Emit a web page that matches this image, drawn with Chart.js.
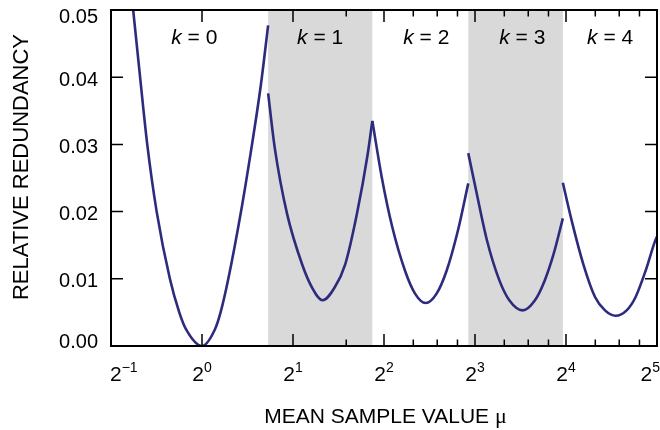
<!DOCTYPE html>
<html>
<head>
<meta charset="utf-8">
<script src="https://cdn.jsdelivr.net/npm/chart.js@4.4.1/dist/chart.umd.min.js"></script>
<style>
  html, body { margin: 0; padding: 0; background: #fff; }
  #wrap { width: 660px; height: 430px; }
</style>
</head>
<body>
<div id="wrap"><canvas id="redundancy"></canvas></div>
<script>
const SANS = '"Liberation Sans", Arial, Helvetica, sans-serif';
const SERIF = '"Liberation Serif", "Times New Roman", serif';
const LINE = '#2c2b7c';
const BAND = '#d9d9d9';

// relative redundancy against mean sample value, one curve per parameter k
const muK0  = [0.582, 0.592, 0.624, 0.659, 0.708, 0.783, 0.841, 0.885, 1.0, 1.104, 1.152, 1.222, 1.352, 1.452, 1.562, 1.655];
const redK0 = [0.0534, 0.050, 0.040, 0.030, 0.020, 0.010, 0.005, 0.0025, 0, 0.0025, 0.005, 0.010, 0.0205, 0.029, 0.0385, 0.0477];

const muK1  = [1.655, 1.739, 1.911, 2.142, 2.312, 2.505, 2.746, 2.979, 3.256, 3.531, 3.66];
const redK1 = [0.0376, 0.0296, 0.0197, 0.0122, 0.0087, 0.0068, 0.0087, 0.0122, 0.0197, 0.0285, 0.0335];

const muK2  = [3.66, 3.929, 4.260, 4.695, 5.067, 5.491, 5.971, 6.444, 7.008, 7.6];
const redK2 = [0.0335, 0.0252, 0.0177, 0.0112, 0.0078, 0.0064, 0.0078, 0.0112, 0.0170, 0.0242];

const muK3  = [7.6, 8.061, 8.766, 9.627, 10.389, 11.495, 12.632, 13.566, 14.561, 15.62];
const redK3 = [0.0287, 0.0232, 0.0157, 0.0098, 0.0068, 0.0053, 0.0068, 0.0096, 0.0137, 0.0190];

const muK4  = [15.62, 16.70, 18.25, 19.96, 21.54, 23.34, 25.39, 27.19, 29.34, 31.52, 32];
const redK4 = [0.0243, 0.0187, 0.0122, 0.0073, 0.0053, 0.0045, 0.0053, 0.0073, 0.0112, 0.0156, 0.0163];

// shaded ranges (odd k) and where the k labels sit
const bands = [[1.655, 3.66], [7.6, 15.62]];
const kValues = [0, 1, 2, 3, 4];
const kLabelMu = [0.943, 2.46, 5.52, 11.47, 22.4];

// axis ticks
const xMajor = [0.5, 1, 2, 4, 8, 16, 32];
const xExponents = ['\u22121', '0', '1', '2', '3', '4', '5'];
const xMinor = [3, 5, 6, 7, 10, 12, 14, 20, 24, 28];
const yTicks = [0, 0.01, 0.02, 0.03, 0.04, 0.05];

const curves = [[muK0, redK0], [muK1, redK1], [muK2, redK2], [muK3, redK3], [muK4, redK4]];

let pairs = function(xs, ys) {
  return xs.map((x, i) => ({x: x, y: ys[i]}));
};

let drawTextRun = function(ctx, parts, x, y) {
  // parts: [text, font] drawn left to right from x
  parts.forEach(([text, font]) => {
    ctx.font = font;
    ctx.fillText(text, x, y);
    x += ctx.measureText(text).width;
  });
};

let runWidth = function(ctx, parts) {
  let w = 0;
  parts.forEach(([text, font]) => {
    ctx.font = font;
    w += ctx.measureText(text).width;
  });
  return w;
};

const framePlugin = {
  id: 'frame',
  beforeDatasetsDraw(chart) {
    const {ctx, chartArea: a, scales: {x}} = chart;
    ctx.save();
    ctx.fillStyle = BAND;
    bands.forEach(([lo, hi]) => {
      const l = x.getPixelForValue(lo);
      const r = x.getPixelForValue(hi);
      ctx.fillRect(l, a.top, r - l, a.bottom - a.top);
    });
    ctx.restore();
  },
  afterDatasetsDraw(chart) {
    const {ctx, chartArea: a, scales: {x, y}} = chart;
    ctx.save();

    // inward ticks on all four sides
    ctx.strokeStyle = '#000';
    ctx.lineWidth = 1.5;
    ctx.beginPath();
    xMajor.slice(1, -1).forEach((v) => {
      const px = x.getPixelForValue(v);
      ctx.moveTo(px, a.bottom); ctx.lineTo(px, a.bottom - 12);
      ctx.moveTo(px, a.top); ctx.lineTo(px, a.top + 12);
    });
    xMinor.forEach((v) => {
      const px = x.getPixelForValue(v);
      ctx.moveTo(px, a.bottom); ctx.lineTo(px, a.bottom - 6.5);
      ctx.moveTo(px, a.top); ctx.lineTo(px, a.top + 6.5);
    });
    yTicks.slice(1, -1).forEach((v) => {
      const py = y.getPixelForValue(v);
      ctx.moveTo(a.left, py); ctx.lineTo(a.left + 12, py);
      ctx.moveTo(a.right, py); ctx.lineTo(a.right - 12, py);
    });
    ctx.stroke();

    // frame
    ctx.lineWidth = 2;
    ctx.strokeRect(a.left, a.top, a.right - a.left, a.bottom - a.top);

    ctx.fillStyle = '#000';

    // y tick labels
    ctx.font = '20px ' + SANS;
    ctx.textAlign = 'right';
    ctx.textBaseline = 'middle';
    yTicks.forEach((v) => {
      let py = y.getPixelForValue(v) + 3;
      py = Math.min(Math.max(py, a.top + 7), a.bottom - 4);
      ctx.fillText(v.toFixed(2), a.left - 13, py);
    });

    // x tick labels as powers of two
    ctx.textAlign = 'left';
    ctx.textBaseline = 'alphabetic';
    xMajor.forEach((v, i) => {
      const base = '21px ' + SANS;
      const sup = '14px ' + SANS;
      ctx.font = base;
      const wb = ctx.measureText('2').width;
      ctx.font = sup;
      const we = ctx.measureText(xExponents[i]).width;
      let left = x.getPixelForValue(v) - (wb + we) / 2;
      left = Math.max(left, a.left - 1);
      left = Math.min(left, chart.width - (wb + we));
      ctx.font = base;
      ctx.fillText('2', left, a.bottom + 35);
      ctx.font = sup;
      ctx.fillText(xExponents[i], left + wb, a.bottom + 26);
    });

    // k labels
    kValues.forEach((k, i) => {
      const parts = [['k', 'italic 21px ' + SANS], [' = ' + k, '21px ' + SANS]];
      const w = runWidth(ctx, parts);
      drawTextRun(ctx, parts, x.getPixelForValue(kLabelMu[i]) - w / 2, a.top + 34);
    });

    // axis titles
    const xt = [['MEAN SAMPLE VALUE ', '21px ' + SANS], ['\u03bc', '22px ' + SERIF]];
    const xw = runWidth(ctx, xt);
    drawTextRun(ctx, xt, (a.left + a.right) / 2 + 1.5 - xw / 2, 423);

    ctx.translate(28, (a.top + a.bottom) / 2 - 11);
    ctx.rotate(-Math.PI / 2);
    ctx.font = '22px ' + SANS;
    ctx.textAlign = 'center';
    ctx.fillText('RELATIVE REDUNDANCY', 0, 0);

    ctx.restore();
  }
};

new Chart(document.getElementById('redundancy'), {
  type: 'scatter',
  data: {
    datasets: curves.map(([xs, ys], i) => ({
      label: 'k = ' + kValues[i],
      data: pairs(xs, ys),
      showLine: true,
      borderColor: LINE,
      borderWidth: 2.6,
      pointRadius: 0,
      fill: false,
      cubicInterpolationMode: 'monotone'
    }))
  },
  options: {
    responsive: true,
    maintainAspectRatio: false,
    animation: false,
    layout: { padding: { top: 10, right: 3, left: 0, bottom: 0 } },
    plugins: { legend: { display: false }, tooltip: { enabled: false } },
    scales: {
      x: {
        type: 'logarithmic',
        min: 0.5,
        max: 32,
        grid: { display: false },
        border: { display: false },
        ticks: { display: false },
        afterFit: (s) => { s.height = 84; }
      },
      y: {
        min: 0,
        max: 0.05,
        grid: { display: false },
        border: { display: false },
        ticks: { display: false },
        afterFit: (s) => { s.width = 111; }
      }
    }
  },
  plugins: [framePlugin]
});
</script>
</body>
</html>
